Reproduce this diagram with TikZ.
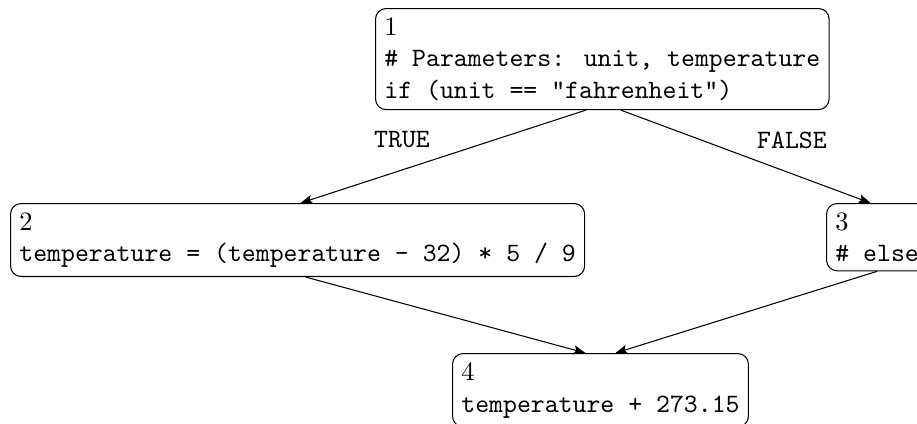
\documentclass[tikz,border=0pt]{standalone}
\usetikzlibrary{arrows.meta,calc}

\tikzset{
  px/.style={x=0.37736pt,y=-0.37736pt},
  block/.style={draw,rounded corners=4pt,align=left,anchor=north west,
    inner sep=3.33pt,font=\normalsize},
  flow/.style={-{Stealth[length=4.5pt,width=3.4pt,inset=0.9pt]},thin},
  branch/.style={font=\ttfamily}
}

\begin{document}
\begin{tikzpicture}[px]
  \path[use as bounding box,clip] (0,0) rectangle (917,423);

  % statement blocks
  \node[block] (n1) at (375,8)
    {1\\\texttt{\# Parameters: unit, temperature}\\\texttt{if (unit == "fahrenheit")}};
  \node[block] (n2) at (10,203)
    {2\\\texttt{temperature = (temperature - 32) * 5 / 9}};
  \node[block] (n3) at (826,203)
    {3\\\texttt{\# else}};
  \node[block] (n4) at (452,353)
    {4\\\texttt{temperature + 273.15}};

  % branch labels
  \node[branch] (lt) at (402,140) {TRUE};
  \node[branch] (lf) at (792,140) {FALSE};

  % control flow
  \draw[flow] ($(n1.south)+(-16.5,0)$) -- ($(n2.north)+(3,0)$);
  \draw[flow] ($(n1.south)+(18.5,0)$) -- ($(n3.north)+(-6.6,0)$);
  \draw[flow] ($(n2.south)+(8,0)$) -- ($(n4.north)+(-15,0)$);
  \draw[flow] ($(n3.south)+(0,0)$) -- ($(n4.north)+(15,0)$);
\end{tikzpicture}
\end{document}
